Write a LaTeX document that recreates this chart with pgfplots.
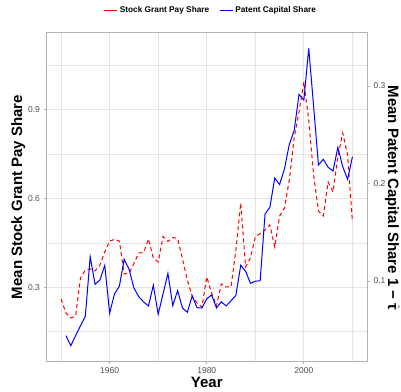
\documentclass[border=0pt]{standalone}
\usepackage{pgfplots}
\pgfplotsset{compat=1.18}
\usepackage{pgfplotstable}
\usepackage{fontspec}
\setmainfont{Liberation Sans}

\definecolor{gridc}{HTML}{E4E4E4}
\definecolor{borderc}{HTML}{B3B3B3}
\definecolor{tickc}{HTML}{4D4D4D}

\pgfplotstableread{
year val
1950 0.2605
1951 0.2132
1952 0.1963
1953 0.2030
1954 0.3314
1955 0.3584
1956 0.3618
1957 0.3551
1958 0.3753
1959 0.4193
1960 0.4564
1961 0.4615
1962 0.4564
1963 0.3449
1964 0.3483
1965 0.3804
1966 0.4159
1967 0.4176
1968 0.4632
1969 0.3990
1970 0.3855
1971 0.4716
1972 0.4547
1973 0.4682
1974 0.4649
1975 0.3956
1976 0.3247
1977 0.2706
1978 0.2470
1979 0.2334
1980 0.3348
1981 0.2807
1982 0.2368
1983 0.3111
1984 0.3010
1985 0.3010
1986 0.4260
1987 0.5848
1988 0.3686
1989 0.3990
1990 0.4699
1991 0.4818
1992 0.4936
1993 0.5105
1994 0.4361
1995 0.5409
1996 0.5679
1997 0.6625
1998 0.8044
1999 0.8922
2000 0.9936
2001 0.8652
2002 0.6794
2003 0.5578
2004 0.5409
2005 0.6557
2006 0.6220
2007 0.7402
2008 0.8213
2009 0.7470
2010 0.5206
}\redtab

\pgfplotstableread{
year val
1951 0.0439
1952 0.0336
1953 0.0440
1954 0.0540
1955 0.0641
1956 0.1249
1957 0.0966
1958 0.1010
1959 0.1161
1960 0.0669
1961 0.0867
1962 0.0946
1963 0.1223
1964 0.1120
1965 0.0928
1966 0.0839
1967 0.0785
1968 0.0744
1969 0.0956
1970 0.0658
1971 0.0867
1972 0.1079
1973 0.0747
1974 0.0901
1975 0.0723
1976 0.0679
1977 0.0846
1978 0.0726
1979 0.0723
1980 0.0818
1981 0.0856
1982 0.0723
1983 0.0785
1984 0.0744
1985 0.0798
1986 0.0853
1987 0.1161
1988 0.1099
1989 0.0976
1990 0.0997
1991 0.1003
1992 0.1687
1993 0.1756
1994 0.2056
1995 0.1990
1996 0.2149
1997 0.2402
1998 0.2542
1999 0.2915
2000 0.2856
2001 0.3387
2002 0.2795
2003 0.2190
2004 0.2248
2005 0.2166
2006 0.2128
2007 0.2371
2008 0.2172
2009 0.2043
2010 0.2275
}\bluetab

\begin{document}
\begin{tikzpicture}
\begin{axis}[
  scale only axis, width=320.5pt, height=328pt,
  xmin=1947, xmax=2013, ymin=0.051, ymax=1.159,
  xtick={1960,1980,2000}, minor xtick={1950,1970,1990,2010},
  ytick={0.3,0.6,0.9}, minor ytick={0.15,0.45,0.75,1.05},
  grid=both,
  major grid style={gridc, line width=1.2pt},
  minor grid style={gridc, line width=0.6pt},
  axis line style={borderc, line width=1pt},
  tick style={borderc, line width=0.8pt},
  major tick length=3pt, minor tick length=0pt,
  tick align=outside, tick pos=left,
  /pgf/number format/assume math mode=true,
  ticklabel style={font=\fontsize{8.5}{10}\selectfont, text=tickc},
  xticklabel style={/pgf/number format/1000 sep={}},
  yticklabel style={/pgf/number format/fixed, /pgf/number format/precision=1, /pgf/number format/fixed zerofill},
  xlabel={Year},
  xlabel style={font=\bfseries\fontsize{15}{18}\selectfont, at={(rel axis cs:0.5,-0.065)}, anchor=center},
  ylabel={Mean Stock Grant Pay Share},
  ylabel style={font=\bfseries\fontsize{15}{18}\selectfont, at={(rel axis cs:-0.088,0.5)}, anchor=center},
  legend columns=2,
  legend style={at={(rel axis cs:0.513,1.07)}, anchor=center, draw=none, fill=none,
    font=\bfseries\fontsize{8.3}{10}\selectfont, inner sep=0pt,
    /tikz/every even column/.append style={column sep=8pt}},
  legend image code/.code={\draw[#1, solid] (0pt,0pt) -- (13pt,0pt);},
]
\addplot[red, line width=1pt, dash pattern=on 4pt off 3pt] table[x=year, y=val] {\redtab};
\addlegendentry{Stock Grant Pay Share}
\addlegendimage{blue, line width=1pt}
\addlegendentry{Patent Capital Share}
\coordinate (bl) at (rel axis cs:-0.1451,-0.0945);
\coordinate (tr) at (rel axis cs:1.1061,1.1006);
\coordinate (rt) at (rel axis cs:1.0795,0.84);
\end{axis}
\begin{axis}[
  scale only axis, width=320.5pt, height=328pt,
  xmin=1947, xmax=2013, ymin=0.0179, ymax=0.3544,
  axis x line=none, axis y line*=right,
  ytick={0.1,0.2,0.3},
  axis line style={borderc, line width=1pt},
  tick style={borderc, line width=0.8pt},
  major tick length=3pt,
  tick align=outside,
  /pgf/number format/assume math mode=true,
  ticklabel style={font=\fontsize{8.5}{10}\selectfont, text=tickc},
  yticklabel style={/pgf/number format/fixed, /pgf/number format/precision=1, /pgf/number format/fixed zerofill},
]
\addplot[blue, line width=1pt] table[x=year, y=val] {\bluetab};
\end{axis}
\node[rotate=-90, anchor=west, font=\bfseries\fontsize{15}{18}\selectfont, inner sep=0pt] at (rt) {Mean Patent Capital Share 1 − $\hat{\mbox{τ}}$};
\path (bl) rectangle (tr);
\end{tikzpicture}
\end{document}
